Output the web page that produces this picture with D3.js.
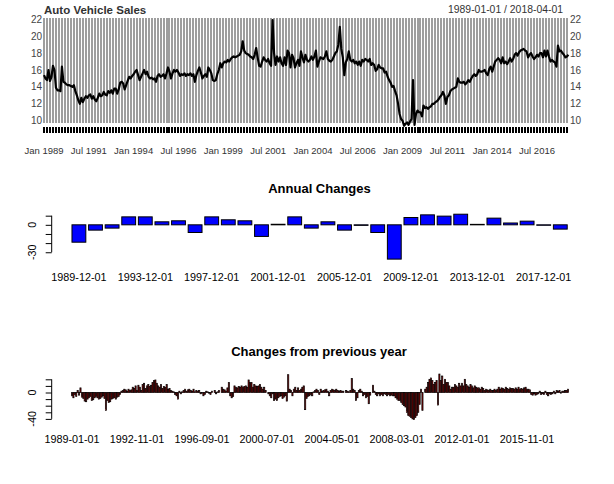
<!DOCTYPE html>
<html><head><meta charset="utf-8">
<script src="https://cdn.jsdelivr.net/npm/d3@7"></script>
<style>body{margin:0;background:#fff;} svg{display:block;font-family:"Liberation Sans",Arial,sans-serif;}</style>
</head><body><svg id="c" width="614" height="484"></svg>
<script>
// ---- DATA ----
// Monthly auto vehicle sales (millions), Jan 1989 .. Apr 2018
const salesMonthly = [
 15.4,15.0,14.8,16.0,14.7,15.2,16.5,16.0,13.9,13.6,13.6,13.5,
 16.4,14.6,14.5,14.3,14.2,14.2,14.1,14.0,14.2,13.5,13.0,12.4,
 12.0,12.7,12.2,12.6,12.9,12.7,13.0,13.1,12.6,12.9,12.5,12.3,
 12.7,13.2,12.9,13.0,13.4,13.1,13.0,13.5,13.3,13.6,13.2,13.8,
 13.8,13.2,13.7,14.5,14.6,14.4,13.7,14.2,14.7,15.2,15.0,15.3,
 15.5,15.8,16.0,15.4,14.8,15.2,15.6,16.0,15.5,15.8,15.2,15.0,
 15.1,14.9,15.0,14.6,15.3,15.5,15.2,15.3,15.5,15.0,15.6,16.3,
 15.8,15.0,15.6,16.0,15.8,16.0,15.7,15.3,15.5,15.4,15.6,15.3,
 15.5,15.4,15.6,15.3,15.5,14.6,15.4,15.9,16.3,15.7,15.0,15.3,
 15.5,15.2,16.3,16.0,15.6,14.8,14.7,14.8,15.5,16.0,16.8,16.3,
 16.8,17.0,16.9,17.2,17.0,17.3,17.5,17.6,17.5,17.6,17.7,17.8,
 18.2,19.4,18.3,18.0,17.9,17.8,17.6,17.5,17.3,17.8,18.6,17.5,
 16.5,16.4,17.0,17.5,17.2,17.0,17.3,16.8,16.5,21.9,18.0,16.6,
 17.6,17.0,17.5,16.8,16.5,17.5,16.6,18.3,18.0,16.3,17.8,17.4,
 16.3,16.8,17.2,16.5,18.2,17.5,16.9,17.8,17.2,17.0,17.2,17.6,
 17.2,17.6,18.3,16.4,17.0,17.5,17.4,17.3,17.6,18.2,17.3,17.1,
 17.0,17.2,17.6,18.0,18.2,19.0,21.1,18.5,17.5,15.4,16.9,17.3,
 18.2,17.2,17.0,17.2,16.8,17.0,16.6,17.0,16.5,17.2,17.0,17.3,
 17.2,17.0,17.3,16.6,16.8,16.6,15.9,16.1,16.6,16.3,16.2,16.2,
 15.7,15.8,15.2,14.8,14.5,14.0,14.1,13.5,13.0,12.0,10.8,10.2,
 10.0,9.4,9.6,9.8,9.5,9.9,10.2,14.8,9.5,10.8,11.2,11.0,
 11.0,10.5,11.8,11.5,11.6,11.4,11.6,11.7,12.0,12.0,12.2,12.3,
 12.5,12.8,13.0,13.4,13.0,12.0,12.8,13.0,13.5,13.7,13.8,13.9,
 14.0,15.0,14.6,14.5,14.5,14.6,14.3,14.5,14.8,14.6,15.0,15.3,
 15.5,15.3,15.5,16.0,15.8,15.8,15.9,16.0,15.6,15.4,16.1,16.4,
 15.8,16.4,17.0,17.2,17.4,17.2,16.8,17.5,16.8,17.0,16.7,17.0,
 17.4,17.0,17.3,17.8,18.0,17.7,18.1,18.3,18.4,18.5,18.3,18.2,
 17.5,17.8,18.0,17.6,17.3,17.5,17.8,17.6,18.0,18.0,17.5,18.3,
 17.6,18.3,17.6,17.0,17.2,17.0,16.9,16.4,18.9,18.2,18.3,18.0,
 17.8,17.5,17.6,17.8
];
const topTickIdx = [0,30,60,90,120,150,180,210,240,270,300,330];
const topTickLabels = ["Jan 1989","Jul 1991","Jan 1994","Jul 1996","Jan 1999","Jul 2001",
  "Jan 2004","Jul 2006","Jan 2009","Jul 2011","Jan 2014","Jul 2016"];
const topYTicks = [10,12,14,16,18,20,22];

// Annual changes (%)
const annualDates = ["1989-12-01","1990-12-01","1991-12-01","1992-12-01","1993-12-01","1994-12-01",
 "1995-12-01","1996-12-01","1997-12-01","1998-12-01","1999-12-01","2000-12-01","2001-12-01",
 "2002-12-01","2003-12-01","2004-12-01","2005-12-01","2006-12-01","2007-12-01","2008-12-01",
 "2009-12-01","2010-12-01","2011-12-01","2012-12-01","2013-12-01","2014-12-01","2015-12-01",
 "2016-12-01","2017-12-01","2018-04-01"];
const annualChanges = [-19,-5.8,-3.6,8.7,8.7,3.3,4.4,-8.4,8.7,5.5,4.4,-12.7,0.6,8.7,-3.6,3.3,-5.8,
 -0.6,-8.4,-37.5,8.0,10.9,9.5,11.6,0.5,7.3,2.0,4.0,-0.5,-4.7];
const annualTickLabels = ["1989-12-01","1993-12-01","1997-12-01","2001-12-01","2005-12-01",
 "2009-12-01","2013-12-01","2017-12-01"];
const annualYTicks = [10,0,-10,-20,-30];
const annualYLabels = [0,-30];

// Changes from previous year (%), monthly
const yoyChanges = [
 -5,-8,-3,-6,3,-4,7,-7,-9,-13,-14,-10,
 -8,-6,-12,-11,-8,-6,-8,-10,-9,-7,-5,-9,
 -27,-12,-15,-14,-10,-9,-8,-10,-7,-6,-3,2,
 3,5,4,2,5,3,4,8,6,10,3,11,
 8,3,12,14,6,10,12,9,11,15,18,19,
 14,10,8,12,6,9,8,12,5,6,3,2,
 1,-3,-5,-10,2,-2,1,3,5,2,4,5,
 3,2,5,1,3,2,3,-2,-1,-5,-3,2,
 1,-1,-3,2,0,3,-2,1,3,0,8,5,
 4,2,7,15,-5,-8,-6,10,8,7,9,8,
 10,8,9,10,8,19,15,15,8,12,10,9,
 10,12,8,5,8,3,0,-2,-5,-8,-2,-12,
 -10,-12,-8,-6,-5,-9,-7,-5,-13,27,5,3,
 -5,5,8,3,7,3,5,8,10,-26,-9,-6,
 -5,-3,-5,1,3,5,3,-3,5,2,3,4,
 5,2,-5,3,5,4,3,5,3,2,3,2,
 2,0,3,2,1,3,21,5,3,-12,-8,3,
 5,2,-5,-3,-8,-6,-17,-4,0,11,2,-3,
 -5,-2,-5,-3,-5,-2,-3,-5,-3,-5,-4,-5,
 -5,-8,-10,-12,-12,-15,-18,-20,-22,-30,-35,-36,
 -38,-40,-41,-38,-35,-30,-18,5,-27,0,5,8,
 15,20,22,18,12,15,18,-19,28,18,25,12,
 20,15,15,10,5,8,8,12,10,8,14,10,
 14,10,20,12,10,8,12,10,7,10,8,7,
 7,5,8,6,3,5,4,3,5,3,3,5,
 3,5,8,5,7,6,5,8,6,5,7,6,
 6,5,7,5,8,5,6,5,7,8,5,5,
 4,-3,-4,-2,-4,-3,-2,2,-3,-2,-3,2,
 -3,-5,-2,-3,-2,2,-2,3,2,3,-1,2,
 2,3,3,5
];
const yoyTickIdx = [0,46,92,138,184,230,276,322];
const yoyTickLabels = ["1989-01-01","1992-11-01","1996-09-01","2000-07-01","2004-05-01",
 "2008-03-01","2012-01-01","2015-11-01"];
const yoyYTicks = [20,10,0,-10,-20,-30,-40];
const yoyYLabels = [0,-40];

// ---- DRAW ----
const svg = d3.select("#c");
svg.append("rect").attr("width",614).attr("height",484).attr("fill","#fff");

// Top panel
const nM = salesMonthly.length;
const xTop = d3.scaleLinear().domain([0, nM-1]).range([44, 568.4]);
const yTop = d3.scaleLinear().domain([10, 22]).range([120.7, 19.3]);
const gTop = svg.append("g");
const stripeIdx = d3.range(0, nM, 2);
gTop.selectAll("rect.stripe").data(stripeIdx).join("rect").attr("class","stripe")
  .attr("x", d => Math.round(xTop(d)) - 1).attr("width", 2)
  .attr("y", 18).attr("height", 105)
  .attr("fill", "#9e9e9e").attr("shape-rendering","crispEdges");
gTop.selectAll("rect.tk").data(stripeIdx).join("rect").attr("class","tk")
  .attr("x", d => Math.round(xTop(d)) - 1).attr("width", 2)
  .attr("y", 127).attr("height", 6)
  .attr("fill", "#000").attr("shape-rendering","crispEdges");
gTop.append("path").datum(salesMonthly)
  .attr("d", d3.line().x((d,i) => xTop(i)).y(d => yTop(d)))
  .attr("fill","none").attr("stroke","#000").attr("stroke-width",2.2)
  .attr("stroke-linejoin","round");
gTop.selectAll("text.yl").data(topYTicks).join("text").attr("class","yl")
  .attr("x", 42).attr("y", d => yTop(d)).attr("dy","0.35em")
  .attr("text-anchor","end").attr("font-size","10px").attr("fill","#444").text(d => d);
gTop.selectAll("text.yr").data(topYTicks).join("text").attr("class","yr")
  .attr("x", 570).attr("y", d => yTop(d)).attr("dy","0.35em")
  .attr("text-anchor","start").attr("font-size","10px").attr("fill","#444").text(d => d);
gTop.selectAll("text.xl").data(topTickIdx).join("text").attr("class","xl")
  .attr("x", d => xTop(d)).attr("y", 154.4)
  .attr("text-anchor","middle").attr("font-size","9.5px").attr("fill","#333")
  .text((d,i) => topTickLabels[i]);
gTop.append("text").attr("x",44).attr("y",13.6).attr("font-size","11.5px")
  .attr("font-weight","bold").attr("fill","#333").text("Auto Vehicle Sales");
gTop.append("text").attr("x",563).attr("y",13.2).attr("font-size","10.4px")
  .attr("text-anchor","end").attr("fill","#333").text("1989-01-01 / 2018-04-01");

// helper for R-style y axis
function rAxis(g, yScale, ticks, labels, xAxis) {
  const ax = g.append("g").attr("transform", `translate(${xAxis},0)`)
    .call(d3.axisLeft(yScale).tickValues(ticks).tickSize(6).tickFormat(""));
  ax.select(".domain").remove();
  ax.selectAll("line").attr("stroke","#000");
  g.append("line").attr("x1",xAxis).attr("x2",xAxis)
    .attr("y1", yScale(d3.max(ticks))).attr("y2", yScale(d3.min(ticks)))
    .attr("stroke","#000");
  g.selectAll("text.ylab").data(labels).join("text").attr("class","ylab")
    .attr("transform", d => `translate(35.6,${yScale(d)}) rotate(-90)`)
    .attr("text-anchor","middle").attr("font-size","10.8px").attr("fill","#000")
    .text(d => d);
}

// Annual panel
const gAnn = svg.append("g");
const xAnn = d3.scaleBand().domain(annualDates).range([70.6, 568.6])
  .paddingInner(1/6).paddingOuter(1/12);
const yAnn = d3.scaleLinear().domain([-40, 15]).range([261.4, 211.1]);
gAnn.selectAll("rect").data(annualChanges).join("rect")
  .attr("x", (d,i) => xAnn(annualDates[i])).attr("width", xAnn.bandwidth())
  .attr("y", d => Math.min(yAnn(d), yAnn(0)))
  .attr("height", d => Math.abs(yAnn(d) - yAnn(0)))
  .attr("fill","#0000ff").attr("stroke","#000").attr("stroke-width",1);
rAxis(gAnn, yAnn, annualYTicks, annualYLabels, 51.7);
gAnn.selectAll("text.xl").data(annualTickLabels).join("text").attr("class","xl")
  .attr("x", d => xAnn(d) + xAnn.bandwidth()/2).attr("y", 281.2)
  .attr("text-anchor","middle").attr("font-size","10.8px").attr("fill","#000").text(d => d);
gAnn.append("text").attr("x",319.5).attr("y",192.7).attr("text-anchor","middle")
  .attr("font-size","13px").attr("font-weight","bold").text("Annual Changes");

// YoY panel
const gYoY = svg.append("g");
const idxs = d3.range(yoyChanges.length);
const xYoY = d3.scaleBand().domain(idxs).range([71.3, 568.7])
  .paddingInner(1/6).paddingOuter(1/12);
const yYoY = d3.scaleLinear().domain([-45, 30]).range([422.2, 372.7]);
gYoY.selectAll("rect").data(yoyChanges).join("rect")
  .attr("x", (d,i) => xYoY(i)).attr("width", xYoY.bandwidth())
  .attr("y", d => Math.min(yYoY(d), yYoY(0)))
  .attr("height", d => Math.abs(yYoY(d) - yYoY(0)))
  .attr("fill","#8b0000").attr("stroke","#000").attr("stroke-width",0.7);
rAxis(gYoY, yYoY, yoyYTicks, yoyYLabels, 51.7);
gYoY.selectAll("text.xl").data(yoyTickIdx).join("text").attr("class","xl")
  .attr("x", d => xYoY(d) + xYoY.bandwidth()/2).attr("y", 443)
  .attr("text-anchor","middle").attr("font-size","10.8px").attr("fill","#000")
  .text((d,i) => yoyTickLabels[i]);
gYoY.append("text").attr("x",319).attr("y",355.7).attr("text-anchor","middle")
  .attr("font-size","13px").attr("font-weight","bold").text("Changes from previous year");
</script></body></html>
